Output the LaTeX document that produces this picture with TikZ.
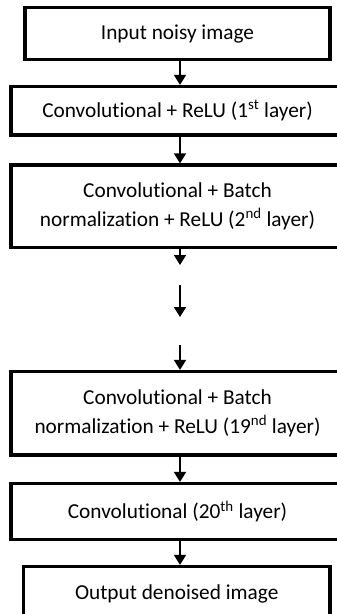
\documentclass[tikz,border=0pt]{standalone}
\usepackage{fontspec}
\setmainfont{Carlito}[Ligatures={NoCommon}]
\usetikzlibrary{arrows.meta}
\tikzset{
  stage/.style={draw=black, line width=3.2pt, fill=white, inner sep=0pt, align=center,
    font=\fontsize{21.3}{28.4}\selectfont, anchor=center},
  arr/.style={line width=1.8pt, -{Triangle[width=12pt,length=10pt]}}
}
\begin{document}
\begin{tikzpicture}[x=1pt,y=-1pt]
\useasboundingbox (0,0) rectangle (337,614);
\clip (0,0) rectangle (337,614);
\node[stage, minimum width=305pt, minimum height=52pt] (b1) at (177.5,33.5) {Input noisy image};
\node[stage, minimum width=333pt, minimum height=48.5pt] (b2) at (177.5,110.75) {Convolutional + ReLU (1\textsuperscript{st} layer)};
\node[stage, minimum width=333pt, minimum height=82.5pt] (b3) at (177.5,206.25) {Convolutional + Batch\\normalization + ReLU (2\textsuperscript{nd} layer)};
\node[stage, minimum width=333pt, minimum height=83.5pt] (b4) at (177.5,413.25) {Convolutional + Batch\\normalization + ReLU (19\textsuperscript{nd} layer)};
\node[stage, minimum width=333pt, minimum height=56pt] (b5) at (177.5,511.5) {Convolutional (20\textsuperscript{th} layer)};
\node[stage, minimum width=306.5pt, minimum height=52pt, text depth=0pt] (b6) at (176.75,592.5) {Output denoised image};
\coordinate (ax) at (180,0);
\coordinate (g1) at (180,265);
\coordinate (g2) at (180,285);
\coordinate (g3) at (180,317);
\coordinate (g4) at (180,345);
\draw[arr] (b1.south -| ax) -- (b2.north -| ax);
\draw[arr] (b2.south -| ax) -- (b3.north -| ax);
\draw[arr] (b3.south -| ax) -- (g1);
\draw[arr] (g2) -- (g3);
\draw[arr] (g4) -- (b4.north -| ax);
\draw[arr] (b4.south -| ax) -- (b5.north -| ax);
\draw[arr] (b5.south -| ax) -- (b6.north -| ax);
\end{tikzpicture}
\end{document}
